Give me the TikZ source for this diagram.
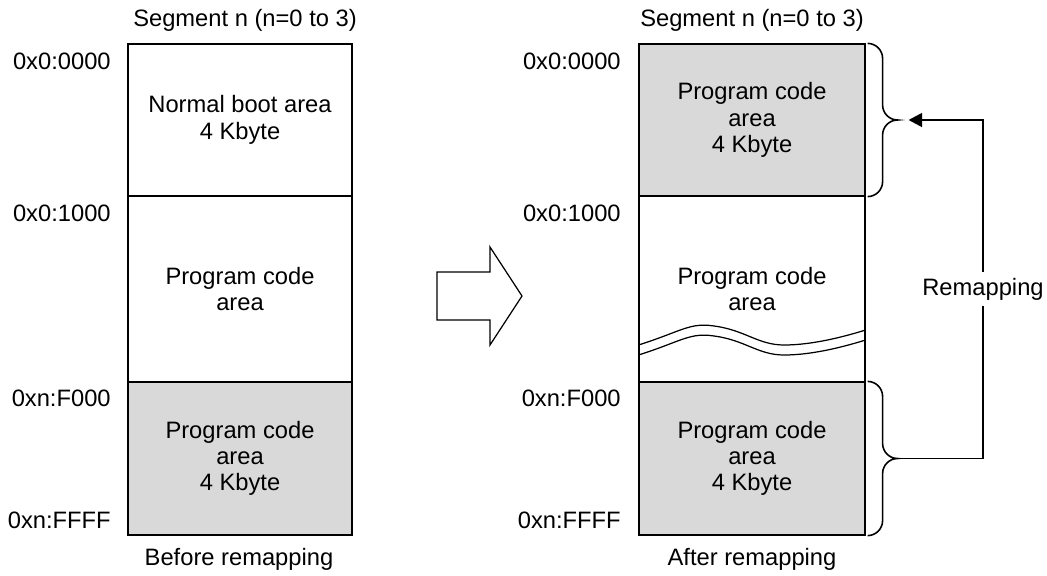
\documentclass[tikz,border=0pt]{standalone}
\usepackage{fontspec}
\setmainfont{Liberation Sans}
\usepackage{tikz}
\usetikzlibrary{positioning,arrows.meta,calc}

\definecolor{areagray}{RGB}{217,217,217}

\tikzset{
  memfont/.style={font=\fontsize{13.5pt}{15pt}\selectfont},
  memblk/.style={draw, line width=0.7pt, inner sep=0pt, align=center, memfont},
  addr/.style={anchor=east, inner sep=0pt, memfont},
  remap/.style={line width=0.9pt, -{Triangle[length=0.27cm, width=0.28cm]}},
  bracket/.style={line width=0.9pt}
}

% rounded brace from #1 (top) to #2 (bottom), tip named #3
\newcommand{\membrace}[3]{%
  \draw[bracket] let \p1=(#1), \p2=(#2), \n1={0.5*(\y1+\y2)} in
    (\x1,\y1) .. controls (\x1+0.165cm,\y1) and (\x1+0.3cm,\y1-0.135cm) .. (\x1+0.3cm,\y1-0.3cm)
    -- (\x1+0.3cm,\n1+0.3cm) .. controls (\x1+0.3cm,\n1+0.135cm) and (\x1+0.435cm,\n1) .. (\x1+0.6cm,\n1)
    coordinate (#3)
    .. controls (\x1+0.435cm,\n1) and (\x1+0.3cm,\n1-0.135cm) .. (\x1+0.3cm,\n1-0.3cm)
    -- (\x1+0.3cm,\y2+0.3cm) .. controls (\x1+0.3cm,\y2+0.135cm) and (\x1+0.165cm,\y2) .. (\x1,\y2);}

\begin{document}
\begin{tikzpicture}[x=0.02cm, y=-0.02cm]

\useasboundingbox (0,0) rectangle (1047,575);

% before remapping
\node[memfont] (lseg) at (245,20) {Segment n (n=0 to 3)};
\node[memblk, minimum width=4.48cm, minimum height=3.04cm] (lboot) at (240,120) {Normal boot area\\4 Kbyte};
\node[memblk, minimum width=4.48cm, minimum height=3.72cm] (lprog) at (240,289) {Program code\\area};
\node[memblk, minimum width=4.48cm, minimum height=3.06cm, fill=areagray] (ltop) at (240,458.5) {Program code\\area\\4 Kbyte};
\node[memfont] (lcap) at (239,559) {Before remapping};

\node[addr] (la0) at (111,61) {0x0:0000};
\node[addr] (la1) at (111,213) {0x0:1000};
\node[addr] (la2) at (111,398) {0xn:F000};
\node[addr] (la3) at (111,520) {0xn:FFFF};

% block arrow
\draw[line width=0.7pt] (437,272) -- (490,272) -- (490,247) -- (522,296)
  -- (490,345) -- (490,320) -- (437,320) -- cycle;

% after remapping
\node[memfont] (rseg) at (752,20) {Segment n (n=0 to 3)};
\node[memblk, minimum width=4.52cm, minimum height=3.04cm, fill=areagray] (rboot) at (752,120) {Program code\\area\\4 Kbyte};
\node[memblk, minimum width=4.52cm, minimum height=3.72cm] (rprog) at (752,289) {Program code\\area};
\node[memblk, minimum width=4.52cm, minimum height=3.06cm, fill=areagray] (rtop) at (752,458.5) {Program code\\area\\4 Kbyte};
\node[memfont] (rcap) at (752,559) {After remapping};

\node[addr] (ra0) at (621,61) {0x0:0000};
\node[addr] (ra1) at (621,213) {0x0:1000};
\node[addr] (ra2) at (621,398) {0xn:F000};
\node[addr] (ra3) at (621,520) {0xn:FFFF};

\foreach \dy in {0, 10}
  \draw[line width=0.7pt] ($(rprog.west)+(0,56+\dy)$) .. controls (680,332+\dy) and (690,322+\dy) .. (714,326+\dy)
    .. controls (745,330+\dy) and (758,345+\dy) .. (784,345+\dy)
    .. controls (810,345+\dy) and (840,338+\dy) .. ($(rprog.east)+(0,41+\dy)$);

% braces and remapping arrow
\membrace{$(rboot.north east)+(2,0)$}{$(rboot.south east)+(2,0)$}{uptip}
\membrace{$(rtop.north east)+(2,0)$}{$(rtop.south east)+(2,0)$}{lotip}
\coordinate (turn) at (983,0);

\draw[remap] (lotip) -- (lotip -| turn) -- node[fill=white, memfont, inner xsep=1pt] (rlab) {Remapping} (uptip -| turn) -- ($(uptip)+(11,0)$);

\end{tikzpicture}
\end{document}
